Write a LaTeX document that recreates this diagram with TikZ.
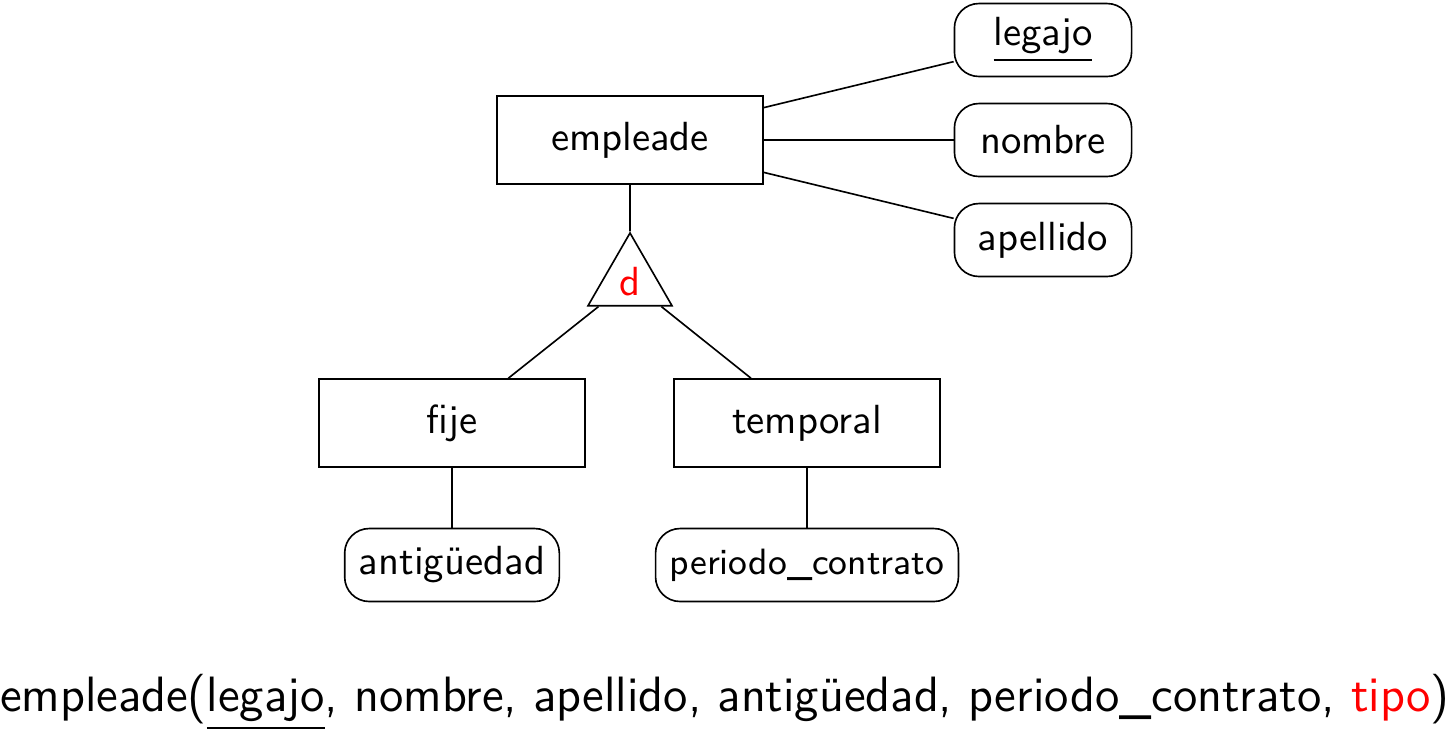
\documentclass[tikz,border=0pt]{standalone}
\usepackage{amsmath}
\usepackage{color}
\usetikzlibrary{shapes, shapes.geometric, calc}
\renewcommand{\familydefault}{\sfdefault}

\begin{document}
\begin{tikzpicture}[x=0.008641cm, y=-0.008641cm,
	entidad/.style={draw, rectangle, minimum width=2.30cm, minimum height=0.76cm},
	atributo/.style={draw, rectangle, rounded corners=6pt, minimum width=1.53cm, minimum height=0.63cm, inner xsep=3.5pt},
	jerarquia/.style={draw, regular polygon, regular polygon sides=3, minimum size=0.838cm, inner sep=0pt, text=red}]

\useasboundingbox (0,0) rectangle (1450,729);

% entidades
\node[entidad] (empleade) at (630,140) {empleade};
\node[entidad] (fije)     at (452,423) {fije};
\node[entidad] (temporal) at (807,423) {temporal};

% atributos
\node[atributo] (legajo)   at (1043,40)  {\underline{legajo}};
\node[atributo] (nombre)   at (1043,140) {nombre};
\node[atributo] (apellido) at (1043,240) {apellido};
\node[atributo] (antig)    at (452,565)  {antigüedad};
\node[atributo] (periodo)  at (807,565)  {\small periodo\_contrato};

% especializacion
\node[jerarquia] (d) at (630,281.5) {d};

\draw (empleade) -- (legajo);
\draw (empleade) -- (nombre);
\draw (empleade) -- (apellido);
\draw (empleade) -- (d);
\draw (d) -- (fije);
\draw (d) -- (temporal);
\draw (fije) -- (antig);
\draw (temporal) -- (periodo);

\node[anchor=base, inner sep=0pt] (tabla) at (725,711) {\fontsize{12.2pt}{14.7pt}\selectfont empleade(\underline{legajo}, nombre, apellido, antigüedad, periodo\_contrato, \textcolor{red}{tipo})};

\end{tikzpicture}
\end{document}
